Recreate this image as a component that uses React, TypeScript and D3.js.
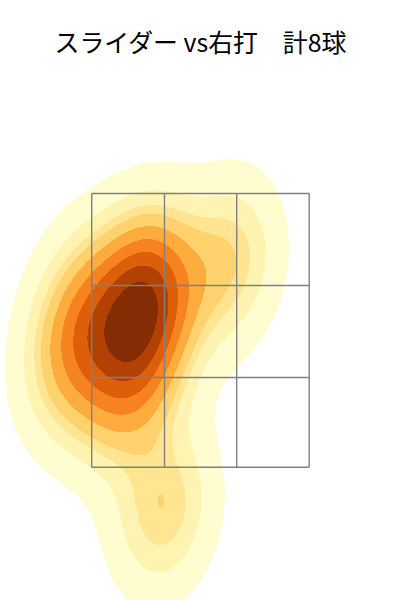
import React from "react";
import * as d3 from "d3";

const titleText = "スライダー vs右打　計8球";

// Pitch locations, in strike-zone cell units (0-3 across, 0-3 down)
const pitchX = [0.99, 1.877, 0.77, -0.072, 0.756, -0.292, 0.411, 0.735];
const pitchY = [3.469, 0.756, 1.661, 1.222, 1.096, 1.847, 2.17, 0.959];

const zoneXTicks = [0, 1.004, 2, 3];
const zoneYTicks = [0, 1.008, 2.017, 3];

const bandColors = ["#FFFCD0", "#FFF3B1", "#FFE591", "#FFD26D", "#FEAC3E", "#F68320", "#DE5F0A", "#B44104", "#842C04"];

const LEVEL_COUNT = 10;
const LOWEST_PROPORTION = 0.05;
const GRID_SIZE = 200;

const xScale = d3.scaleLinear().domain([0, 3]).range([91.7, 309.2]);
const yScale = d3.scaleLinear().domain([0, 3]).range([193.5, 467.2]);

// Gaussian KDE with Scott's bandwidth on the full covariance
function buildDensity() {
  const n = pitchX.length;
  const mx = d3.mean(pitchX) as number;
  const my = d3.mean(pitchY) as number;
  const factor = Math.pow(n, -1 / 3) / (n - 1);
  const sxx = factor * d3.sum(pitchX, (v) => (v - mx) ** 2);
  const syy = factor * d3.sum(pitchY, (v) => (v - my) ** 2);
  const sxy = factor * d3.sum(pitchX, (v, i) => (v - mx) * (pitchY[i] - my));
  const det = sxx * syy - sxy * sxy;
  const [ia, ib, ic] = [syy / det, -sxy / det, sxx / det];
  const density = (x: number, y: number) => {
    let s = 0;
    for (let i = 0; i < n; i++) {
      const a = x - pitchX[i];
      const b = y - pitchY[i];
      s += Math.exp(-0.5 * (ia * a * a + 2 * ib * a * b + ic * b * b));
    }
    return s;
  };
  const x0 = (d3.min(pitchX) as number) - 3 * Math.sqrt(sxx);
  const x1 = (d3.max(pitchX) as number) + 3 * Math.sqrt(sxx);
  const y0 = (d3.min(pitchY) as number) - 3 * Math.sqrt(syy);
  const y1 = (d3.max(pitchY) as number) + 3 * Math.sqrt(syy);
  const dx = (x1 - x0) / (GRID_SIZE - 1);
  const dy = (y1 - y0) / (GRID_SIZE - 1);
  const values: number[] = new Array(GRID_SIZE * GRID_SIZE);
  for (let j = 0; j < GRID_SIZE; j++) {
    for (let i = 0; i < GRID_SIZE; i++) {
      values[j * GRID_SIZE + i] = density(x0 + i * dx, y0 + j * dy);
    }
  }
  return { values, x0, y0, dx, dy };
}

// Density levels that enclose iso-proportions of the total mass
function isoLevels(values: number[]) {
  const sorted = Float64Array.from(values).sort().reverse();
  const total = d3.sum(values);
  const step = (1 - LOWEST_PROPORTION) / (LEVEL_COUNT - 1);
  return d3.range(LEVEL_COUNT - 1).map((k) => {
    const target = 1 - (LOWEST_PROPORTION + k * step);
    let c = 0;
    let idx = 0;
    for (idx = 0; idx < sorted.length; idx++) {
      c += sorted[idx];
      if (c / total >= target) break;
    }
    return sorted[Math.min(idx, sorted.length - 1)];
  });
}

export default function App() {
  const { values, x0, y0, dx, dy } = buildDensity();
  const path = d3.geoPath(
    d3.geoTransform({
      point(x: number, y: number) {
        (this as any).stream.point(xScale(x0 + (x - 0.5) * dx), yScale(y0 + (y - 0.5) * dy));
      },
    })
  );
  const contours = d3.contours().size([GRID_SIZE, GRID_SIZE]).thresholds(isoLevels(values))(values);
  const [left, right] = xScale.range();
  const [top, bottom] = yScale.range();
  return (
    <svg width={400} height={600} style={{ position: "absolute", left: 0, top: 0 }}>
      <rect width={400} height={600} fill="#fff" />
      {contours.map((c, i) => (
        <path key={i} d={path(c as any) || ""} fill={bandColors[i]} shapeRendering="crispEdges" />
      ))}
      {zoneXTicks.map((v, i) => (
        <line key={i} x1={xScale(v)} x2={xScale(v)} y1={top} y2={bottom} stroke="#808080" strokeWidth={1.4} />
      ))}
      {zoneYTicks.map((v, i) => (
        <line key={i} y1={yScale(v)} y2={yScale(v)} x1={left} x2={right} stroke="#808080" strokeWidth={1.4} />
      ))}
      <text x={200.5} y={52} textAnchor="middle" fontFamily="'Noto Sans CJK JP'" fontSize={24.9} fill="#000" style={{ whiteSpace: "pre" }}>
        {titleText}
      </text>
    </svg>
  );
}
